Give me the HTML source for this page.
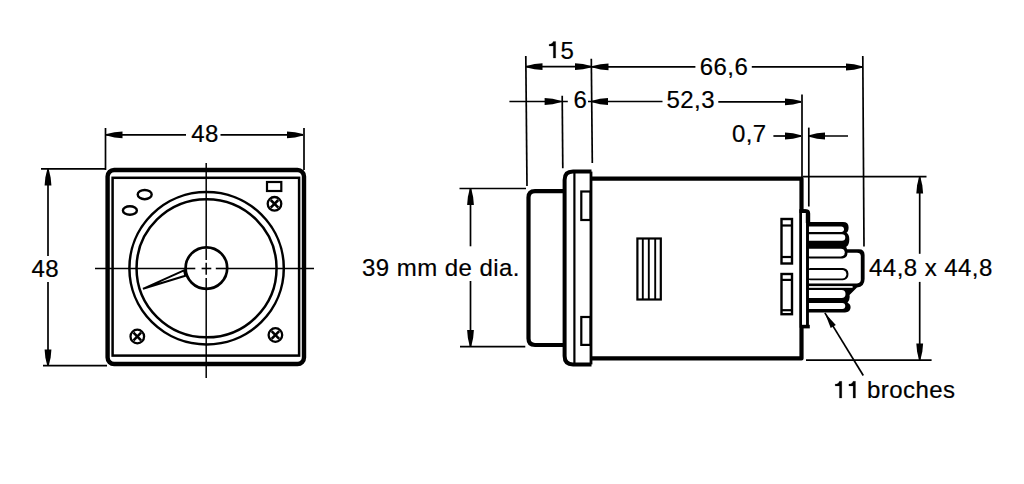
<!DOCTYPE html><html><head><meta charset="utf-8"><style>html,body{margin:0;padding:0;background:#fff;width:1024px;height:484px;overflow:hidden}svg{display:block}text{font-family:"Liberation Sans",sans-serif;font-size:24px;fill:#000;stroke:#000;stroke-width:0.2px;letter-spacing:0.45px}</style></head><body>
<svg width="1024" height="484" viewBox="0 0 1024 484">
<rect width="1024" height="484" fill="#fff"/>
<g stroke="#000" fill="none" stroke-linecap="butt">
<line x1="105.5" y1="128" x2="105.5" y2="170" stroke-width="1.7"/>
<line x1="304" y1="128" x2="304" y2="170" stroke-width="1.7"/>
<line x1="106" y1="134.8" x2="186" y2="134.8" stroke-width="1.7"/>
<line x1="220.5" y1="134.8" x2="303" y2="134.8" stroke-width="1.7"/>
<polygon points="106.50,135.60 114.50,137.45 122.50,138.20 122.50,131.40 114.50,132.15 106.50,134.00" fill="#000" stroke="none"/>
<polygon points="303.00,135.60 295.00,137.45 287.00,138.20 287.00,131.40 295.00,132.15 303.00,134.00" fill="#000" stroke="none"/>
<line x1="41" y1="168.8" x2="106" y2="168.8" stroke-width="1.7"/>
<line x1="43" y1="365.6" x2="107" y2="365.6" stroke-width="1.7"/>
<line x1="48" y1="169" x2="48" y2="256" stroke-width="1.7"/>
<line x1="48" y1="282" x2="48" y2="366" stroke-width="1.7"/>
<polygon points="48.80,169.50 50.65,177.50 51.40,185.50 44.60,185.50 45.35,177.50 47.20,169.50" fill="#000" stroke="none"/>
<polygon points="48.80,365.50 50.65,357.50 51.40,349.50 44.60,349.50 45.35,357.50 47.20,365.50" fill="#000" stroke="none"/>
<rect x="107.6" y="170" width="196.4" height="194" rx="6.5" ry="6.5" stroke-width="4.4"/>
<rect x="112.6" y="177.8" width="186.5" height="177.8" stroke-width="2.5"/>
<ellipse cx="206.6" cy="268.2" rx="77.2" ry="76.2" stroke-width="2.5"/>
<ellipse cx="206.55" cy="268.25" rx="70" ry="69.1" stroke-width="2.5"/>
<circle cx="206.4" cy="268.1" r="20.8" stroke-width="2.7"/>
<line x1="206.2" y1="163" x2="206.2" y2="248.5" stroke-width="1.5"/>
<line x1="206.2" y1="249" x2="206.2" y2="259.9" stroke-width="1.5"/>
<line x1="206.2" y1="262.7" x2="206.2" y2="274.7" stroke-width="1.5"/>
<line x1="206.2" y1="278" x2="206.2" y2="288" stroke-width="1.5"/>
<line x1="206.2" y1="288" x2="206.2" y2="378" stroke-width="1.5"/>
<line x1="95" y1="268.5" x2="186.8" y2="268.5" stroke-width="1.6"/>
<line x1="186.8" y1="268.5" x2="195.3" y2="268.5" stroke-width="1.6"/>
<line x1="201.6" y1="268.5" x2="211.3" y2="268.5" stroke-width="1.6"/>
<line x1="215.8" y1="268.5" x2="226.6" y2="268.5" stroke-width="1.6"/>
<line x1="226.6" y1="268.5" x2="314" y2="268.5" stroke-width="1.6"/>
<polygon points="143,288.8 184,270.3 185.3,275.7" stroke-width="2" stroke-linejoin="miter" fill="#fff"/>
<circle cx="274.5" cy="203.8" r="6.8" stroke-width="2.3"/>
<line x1="270.7" y1="200.0" x2="278.3" y2="207.60000000000002" stroke-width="2.6"/>
<line x1="270.7" y1="207.60000000000002" x2="278.3" y2="200.0" stroke-width="2.6"/>
<circle cx="137.3" cy="336.5" r="6.8" stroke-width="2.3"/>
<line x1="133.5" y1="332.7" x2="141.10000000000002" y2="340.3" stroke-width="2.6"/>
<line x1="133.5" y1="340.3" x2="141.10000000000002" y2="332.7" stroke-width="2.6"/>
<circle cx="275.4" cy="335" r="6.8" stroke-width="2.3"/>
<line x1="271.59999999999997" y1="331.2" x2="279.2" y2="338.8" stroke-width="2.6"/>
<line x1="271.59999999999997" y1="338.8" x2="279.2" y2="331.2" stroke-width="2.6"/>
<rect x="267" y="182" width="14.3" height="9" stroke-width="2.2"/>
<ellipse cx="144.7" cy="194.6" rx="7" ry="4.6" stroke-width="2.4"/>
<ellipse cx="129.9" cy="210.5" rx="7" ry="4.3" stroke-width="2.4"/>
<line x1="525.8" y1="56" x2="527" y2="186" stroke-width="1.7"/>
<line x1="591.3" y1="58.7" x2="592.3" y2="163" stroke-width="1.7"/>
<line x1="526" y1="66.7" x2="592" y2="66.7" stroke-width="1.7"/>
<polygon points="526.50,67.50 534.50,69.35 542.50,70.10 542.50,63.30 534.50,64.05 526.50,65.90" fill="#000" stroke="none"/>
<polygon points="591.00,67.50 583.00,69.35 575.00,70.10 575.00,63.30 583.00,64.05 591.00,65.90" fill="#000" stroke="none"/>
<line x1="592" y1="66.8" x2="695.4" y2="66.8" stroke-width="1.7"/>
<line x1="751.8" y1="66.8" x2="863" y2="66.8" stroke-width="1.7"/>
<polygon points="592.50,67.60 600.50,69.45 608.50,70.20 608.50,63.40 600.50,64.15 592.50,66.00" fill="#000" stroke="none"/>
<polygon points="862.00,67.80 854.00,69.65 846.00,70.40 846.00,63.60 854.00,64.35 862.00,66.20" fill="#000" stroke="none"/>
<line x1="862.8" y1="56" x2="864" y2="246.5" stroke-width="1.7"/>
<line x1="509.4" y1="101.5" x2="567.8" y2="101.5" stroke-width="1.7"/>
<polygon points="560.60,102.30 552.60,104.15 544.60,104.90 544.60,98.10 552.60,98.85 560.60,100.70" fill="#000" stroke="none"/>
<line x1="562.2" y1="95.8" x2="562.8" y2="168.3" stroke-width="1.7"/>
<line x1="588" y1="101.5" x2="662.5" y2="101.5" stroke-width="1.7"/>
<polygon points="592.00,102.30 600.00,104.15 608.00,104.90 608.00,98.10 600.00,98.85 592.00,100.70" fill="#000" stroke="none"/>
<line x1="718.3" y1="101.8" x2="801" y2="101.8" stroke-width="1.7"/>
<polygon points="801.00,102.60 793.00,104.45 785.00,105.20 785.00,98.40 793.00,99.15 801.00,101.00" fill="#000" stroke="none"/>
<line x1="802" y1="94.6" x2="802" y2="178" stroke-width="1.7"/>
<line x1="773.4" y1="136" x2="801" y2="136" stroke-width="1.7"/>
<polygon points="801.00,136.80 793.00,138.65 785.00,139.40 785.00,132.60 793.00,133.35 801.00,135.20" fill="#000" stroke="none"/>
<line x1="808.8" y1="127.6" x2="808.8" y2="206.5" stroke-width="1.7"/>
<line x1="809" y1="136" x2="848" y2="136" stroke-width="1.7"/>
<polygon points="809.00,136.80 817.00,138.65 825.00,139.40 825.00,132.60 817.00,133.35 809.00,135.20" fill="#000" stroke="none"/>
<line x1="459.5" y1="188.5" x2="526" y2="188.5" stroke-width="1.7"/>
<line x1="460" y1="346.6" x2="525.3" y2="346.6" stroke-width="1.7"/>
<line x1="470.5" y1="188.5" x2="470.5" y2="246.3" stroke-width="1.7"/>
<line x1="470.5" y1="281" x2="470.5" y2="346.6" stroke-width="1.7"/>
<polygon points="471.30,189.00 473.15,197.00 473.90,205.00 467.10,205.00 467.85,197.00 469.70,189.00" fill="#000" stroke="none"/>
<polygon points="471.30,346.00 473.15,338.00 473.90,330.00 467.10,330.00 467.85,338.00 469.70,346.00" fill="#000" stroke="none"/>
<line x1="803" y1="176.6" x2="926.5" y2="176.6" stroke-width="1.7"/>
<line x1="806" y1="360.2" x2="931.6" y2="360.2" stroke-width="1.7"/>
<line x1="919.7" y1="177" x2="919.7" y2="253.8" stroke-width="1.7"/>
<line x1="919.7" y1="281.9" x2="919.7" y2="360" stroke-width="1.7"/>
<polygon points="920.50,177.50 922.35,185.50 923.10,193.50 916.30,193.50 917.05,185.50 918.90,177.50" fill="#000" stroke="none"/>
<polygon points="920.50,359.50 922.35,351.50 923.10,343.50 916.30,343.50 917.05,351.50 918.90,359.50" fill="#000" stroke="none"/>
<line x1="824.9" y1="312.9" x2="863.3" y2="375.5" stroke-width="1.7"/>
<polygon points="824.9,312.9 830.7,328.1 835.8,325.0" fill="#000" stroke="none"/>
<path d="M565,191.1 H535 Q528.5,191.1 528.5,197.6 V338.5 Q528.5,345 535,345 H565" stroke-width="4.2"/>
<path d="M591.5,171.6 H573 Q564.6,171.6 564.6,180 V356 Q564.6,364.4 573,364.4 H591.5" stroke-width="4"/>
<line x1="591" y1="171.6" x2="591" y2="364.4" stroke-width="2.8"/>
<line x1="574.4" y1="173" x2="574.4" y2="363" stroke-width="2.2"/>
<path d="M591,178.6 H801.5 V358.4 H591" stroke-width="4.2" stroke-linejoin="round"/>
<rect x="581.3" y="191.5" width="9.3" height="28.5" stroke-width="2.2"/>
<rect x="581.3" y="317" width="9.3" height="27.9" stroke-width="2.2"/>
<rect x="637.4" y="238.5" width="23.4" height="61" stroke-width="2.2"/>
<line x1="642.8" y1="238.5" x2="642.8" y2="299.5" stroke-width="1.9"/>
<line x1="648.8" y1="238.5" x2="648.8" y2="299.5" stroke-width="1.9"/>
<line x1="655.2" y1="238.5" x2="655.2" y2="299.5" stroke-width="1.9"/>
<rect x="781.5" y="219" width="10.5" height="44.5" stroke-width="2.4"/>
<line x1="781.5" y1="225.5" x2="792" y2="225.5" stroke-width="2.2"/>
<line x1="781.5" y1="257" x2="792" y2="257" stroke-width="2.2"/>
<rect x="781.5" y="274" width="10.5" height="40.2" stroke-width="2.4"/>
<line x1="781.5" y1="279.9" x2="792" y2="279.9" stroke-width="2.2"/>
<line x1="781.5" y1="310.2" x2="792" y2="310.2" stroke-width="2.2"/>
<path d="M805,221.9 H843 Q848.6,221.9 848.6,227.3 Q848.6,231.5 846.5,232.8 Q849.3,234.2 849.3,239.5 Q849.3,245 846.3,246.8 L846.5,249.2 H859 Q864.6,249.2 864.6,255 V279 Q864.6,286.8 857,287.5 L849.5,295 Q850.3,299.5 847.5,302.8 Q850.6,304 850.6,307.3 Q850.6,312.4 845,312.4 H805 Z" fill="#000" stroke="none"/>
<path d="M808.6,252.8 H857 Q860.8,252.8 860.8,256.6 V279.6 Q860.8,283.4 857,283.4 H808.6 Z" fill="#fff" stroke="none"/>
<rect x="805" y="246" width="42.4" height="12.5" rx="5" fill="#000" stroke="none"/>
<rect x="805" y="267.9" width="43.4" height="12.3" rx="5.5" fill="#000" stroke="none"/>
<path d="M808.6,226.6 H841.2 A2.75,2.75 0 0 1 841.2,232.1 H808.6 Z" fill="#fff" stroke="none"/>
<path d="M808.6,234.2 H842.0 A3.25,3.25 0 0 1 842.0,240.7 H808.6 Z" fill="#fff" stroke="none"/>
<path d="M808.6,248.7 H840.9 A3.85,3.85 0 0 1 840.9,256.4 H808.6 Z" fill="#fff" stroke="none"/>
<path d="M808.6,269.9 H842.1 A4.25,4.25 0 0 1 842.1,278.4 H808.6 Z" fill="#fff" stroke="none"/>
<path d="M808.6,290.1 H841.5 A4.00,4.00 0 0 1 841.5,298.1 H808.6 Z" fill="#fff" stroke="none"/>
<path d="M808.6,303.1 H842.3 A2.95,2.95 0 0 1 842.3,309 H808.6 Z" fill="#fff" stroke="none"/>
<rect x="808.6" y="286.1" width="44" height="1.7" fill="#fff" stroke="none"/>
<path d="M800.8,326.5 V210.5 H804 Q807.5,210.5 807.5,214 V326.5 Z" fill="#fff" stroke-width="2.4"/>
<line x1="807.4" y1="212" x2="807.4" y2="328" stroke-width="2.6"/>
<line x1="800" y1="326.6" x2="809.8" y2="326.6" stroke-width="3.6"/>
<path d="M799.5,213.5 V209.2 H806 Q810.2,209.2 810.2,213.5 V223 H805.8 V213 H799.5 Z" fill="#000" stroke="none"/>
</g>
<g>
<text x="205" y="142.3" text-anchor="middle">48</text>
<text x="45.2" y="277" text-anchor="middle">48</text>
<text x="560.5" y="58.8" text-anchor="start">5</text>
<polygon points="555.70,41.40 555.70,58.10 553.30,58.10 553.30,46.00 549.10,46.00 549.10,44.20 550.70,44.00 552.40,43.00 553.30,41.40" fill="#000" stroke="#000" stroke-width="0.2"/>
<text x="580.3" y="108.1" text-anchor="middle">6</text>
<text x="724" y="74.8" text-anchor="middle">66,6</text>
<text x="690.7" y="107.7" text-anchor="middle">52,3</text>
<text x="749.3" y="142.2" text-anchor="middle">0,7</text>
<text x="441" y="276" text-anchor="middle">39 mm de dia.</text>
<text x="930.9" y="276.3" text-anchor="middle">44,8 x 44,8</text>
<text x="867" y="398.1" text-anchor="start">broches</text>
<polygon points="841.80,381.30 841.80,398.10 839.40,398.10 839.40,385.90 835.20,385.90 835.20,384.10 836.80,383.90 838.50,382.90 839.40,381.30" fill="#000" stroke="#000" stroke-width="0.2"/>
<polygon points="855.50,381.30 855.50,398.10 853.10,398.10 853.10,385.90 848.90,385.90 848.90,384.10 850.50,383.90 852.20,382.90 853.10,381.30" fill="#000" stroke="#000" stroke-width="0.2"/>
</g>
</svg></body></html>
